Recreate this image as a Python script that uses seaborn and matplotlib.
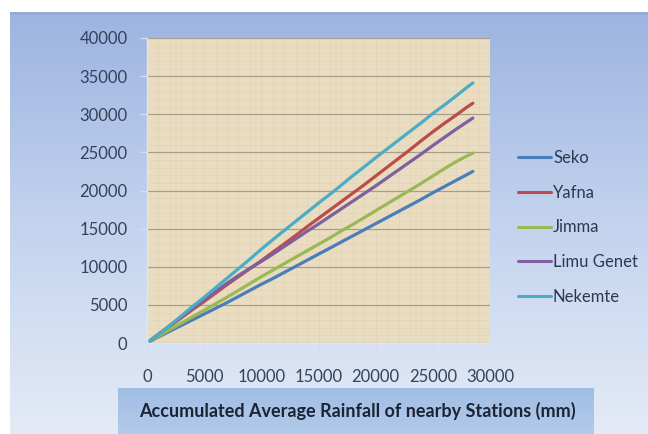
import numpy as np
import pandas as pd
import matplotlib
matplotlib.use("Agg")
import matplotlib.pyplot as plt
from matplotlib.ticker import MultipleLocator
from matplotlib.colors import LinearSegmentedColormap
import seaborn as sns

# Accumulated average rainfall of the nearby stations (mm), shared x values
acc_avg = [0, 1000, 2000, 3000, 4000, 5000, 6000, 7000, 8000, 9000,
           10000, 11000, 12000, 13000, 14000, 15000, 16000, 17000, 18000, 19000,
           20000, 21000, 22000, 23000, 24000, 25000, 26000, 27000, 28000, 28500]

# Accumulated rainfall of each station (mm)
seko = [0, 800, 1550, 2300, 3050, 3800, 4550, 5300, 6100, 6900,
        7700, 8450, 9250, 10050, 10850, 11650, 12450, 13250, 14050, 14850,
        15650, 16450, 17250, 18050, 18850, 19700, 20500, 21300, 22100, 22500]
yafna = [0, 1100, 2200, 3300, 4400, 5450, 6550, 7650, 8700, 9750,
         10800, 11900, 13000, 14100, 15250, 16350, 17450, 18550, 19650, 20750,
         21900, 23050, 24200, 25350, 26550, 27700, 28800, 29850, 30950, 31450]
jimma = [0, 900, 1750, 2600, 3450, 4300, 5150, 6000, 6900, 7800,
         8700, 9550, 10400, 11250, 12100, 12950, 13800, 14700, 15550, 16450,
         17350, 18250, 19150, 20050, 20950, 21900, 22850, 23750, 24550, 24900]
limu_genet = [0, 1150, 2300, 3450, 4550, 5650, 6750, 7850, 8850, 9800,
              10700, 11650, 12650, 13650, 14650, 15600, 16600, 17600, 18600, 19600,
              20600, 21650, 22700, 23750, 24800, 25900, 26950, 28000, 29000, 29500]
nekemte = [0, 1100, 2300, 3550, 4800, 6000, 7250, 8500, 9750, 11000,
           12300, 13550, 14750, 15950, 17150, 18350, 19500, 20700, 21950, 23100,
           24300, 25450, 26600, 27750, 28900, 30100, 31200, 32350, 33550, 34100]

stations = ["Seko", "Yafna", "Jimma", "Limu Genet", "Nekemte"]
series = [seko, yafna, jimma, limu_genet, nekemte]
colors = ["#4a7ebb", "#be4b48", "#98b954", "#7d60a0", "#4bacc6"]

x_ticks = [0, 5000, 10000, 15000, 20000, 25000, 30000]
y_ticks = [0, 5000, 10000, 15000, 20000, 25000, 30000, 35000, 40000]
x_label = "Accumulated Average Rainfall of nearby Stations (mm)"

df = pd.concat(
    [pd.DataFrame({"x": acc_avg, "y": vals, "station": name})
     for name, vals in zip(stations, series)],
    ignore_index=True,
)

sns.set_theme(style="white")
plt.rcParams["font.family"] = ["Lato", "DejaVu Sans"]

W, H = 648, 434
fig = plt.figure(figsize=(W / 100, H / 100), dpi=100)
fig.patch.set_facecolor("white")

# Blue gradient backdrop in pixel coordinates
bg = fig.add_axes([0, 0, 1, 1], zorder=-10)
bg.set_xlim(0, W)
bg.set_ylim(H, 0)
bg.axis("off")
grad = LinearSegmentedColormap.from_list("bgblue", ["#9cb4e0", "#c3d3ee", "#e4ebf6"])
bg.imshow(np.linspace(0, 1, 256).reshape(-1, 1), cmap=grad, aspect="auto",
          extent=[10, W, H, 12], zorder=0)
bg.plot([10, W], [12.5, 12.5], color="#8fa6cc", lw=1.0, zorder=1)

# Title box behind the x-axis caption
box_cmap = LinearSegmentedColormap.from_list("boxblue", ["#a2bde4", "#b2cbea"])
bg.imshow(np.linspace(0, 1, 64).reshape(-1, 1), cmap=box_cmap, aspect="auto",
          extent=[118, 594, H, 388], zorder=2)
bg.text(357, 411, x_label, ha="center", va="center", fontsize=13,
        fontweight="bold", color="#1c2433", zorder=3)

# Main plotting area
left, right, top, bottom = 147, 490, 38, 343
ax = fig.add_axes([left / W, 1 - bottom / H, (right - left) / W, (bottom - top) / H])
ax.set_facecolor("#eadcc0")

sns.lineplot(data=df, x="x", y="y", hue="station", hue_order=stations,
             palette=colors, linewidth=2.3, ax=ax, legend=True)

ax.set_xlim(0, 30000)
ax.set_ylim(0, 40000)
ax.set_xticks(x_ticks)
ax.set_yticks(y_ticks)
ax.set_xticklabels([str(v) for v in x_ticks])
ax.set_yticklabels([str(v) for v in y_ticks])
ax.set_xlabel("")
ax.set_ylabel("")

# Canvas-like fine crosshatch plus the major horizontal gridlines
ax.xaxis.set_minor_locator(MultipleLocator(1000))
ax.yaxis.set_minor_locator(MultipleLocator(1000))
ax.grid(which="minor", color="#e0d2b5", lw=0.5, alpha=0.8)
ax.grid(which="major", axis="y", color="#a99e8a", lw=0.9)
ax.grid(which="major", axis="x", color="#e0d2b5", lw=0.5)
ax.set_axisbelow(True)

for side in ["top", "right"]:
    ax.spines[side].set_visible(False)
for side in ["left", "bottom"]:
    ax.spines[side].set_color("#dfe6f0")
    ax.spines[side].set_linewidth(1.0)

ax.tick_params(axis="both", which="major", length=5, width=1.0, color="#d5dde9",
               labelsize=12, labelcolor="#34425a", direction="out")
ax.tick_params(axis="both", which="minor", length=0)
ax.tick_params(axis="x", pad=14)
ax.tick_params(axis="y", pad=9)
ax.tick_params(axis="x", bottom=True)
ax.tick_params(axis="y", left=True)

handles, labels = ax.get_legend_handles_labels()
ax.legend(handles, labels, loc="upper left", bbox_to_anchor=(503 / W, 1 - 135 / H),
          bbox_transform=fig.transFigure, frameon=False, fontsize=12,
          handlelength=2.0, handletextpad=0.1, labelspacing=1.12,
          labelcolor="#2c3a50")
for line in ax.get_legend().get_lines():
    line.set_linewidth(2.2)

fig.savefig("out.png", dpi=100, facecolor=fig.get_facecolor())
